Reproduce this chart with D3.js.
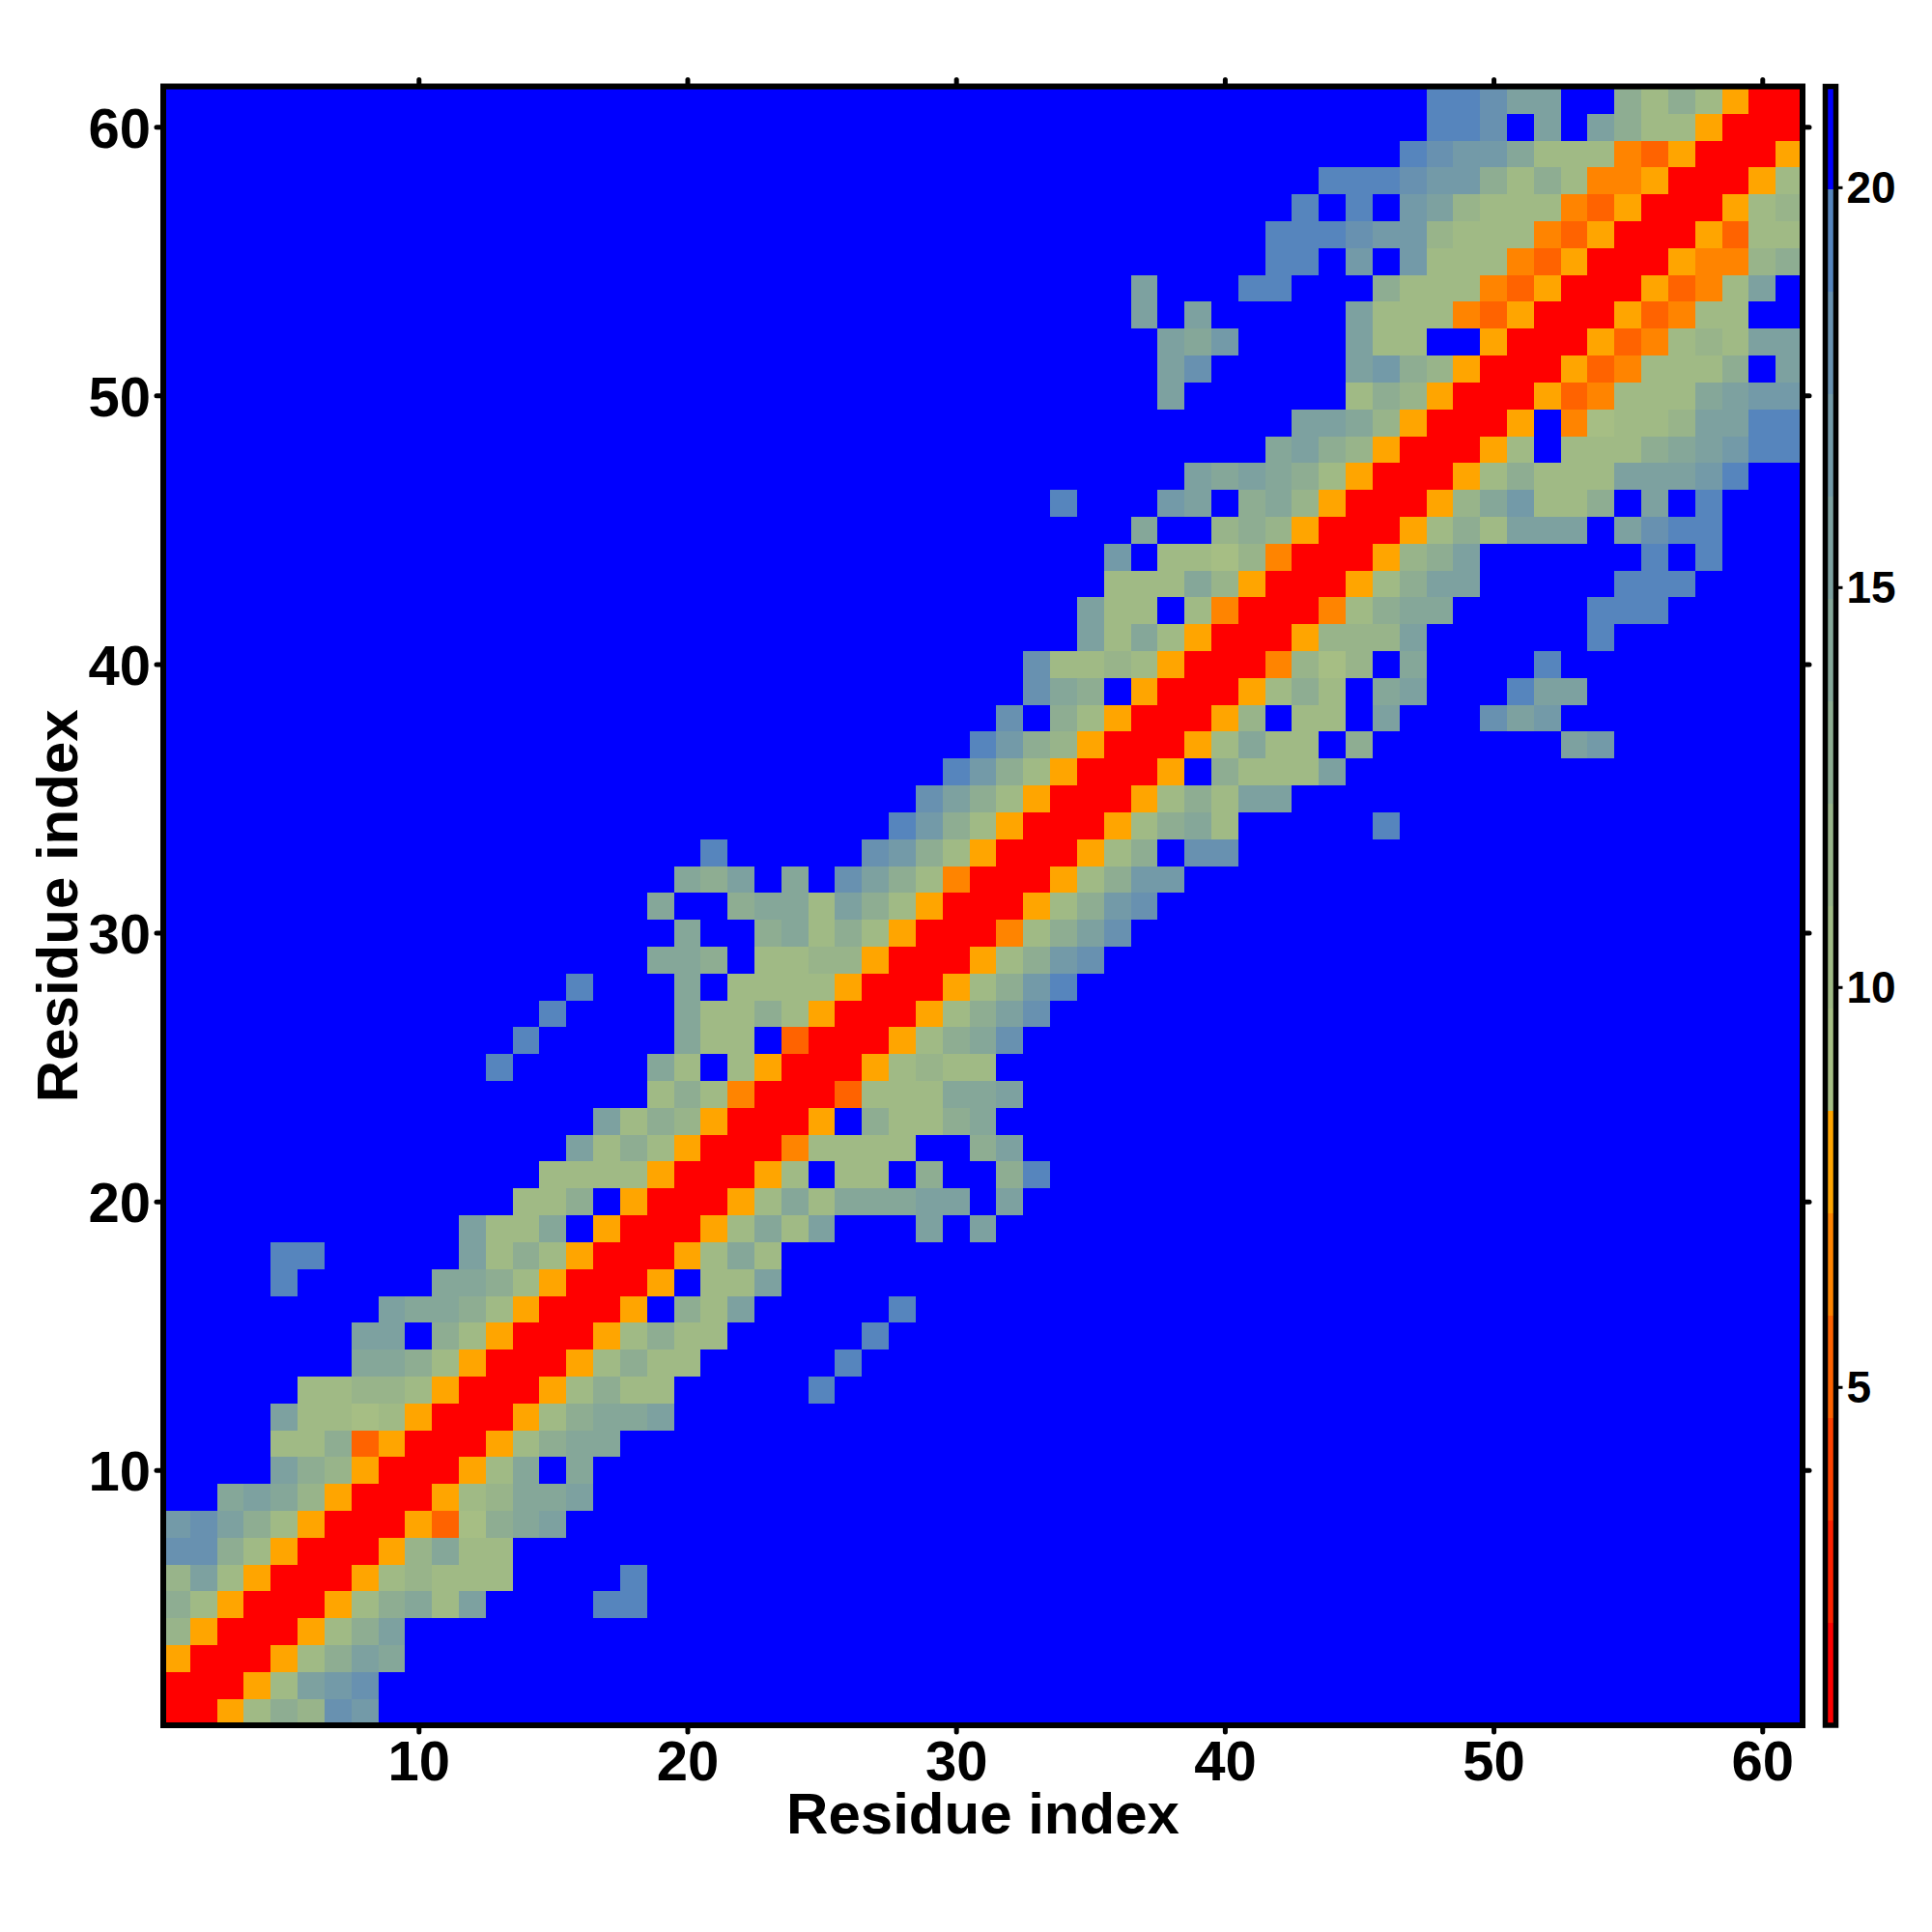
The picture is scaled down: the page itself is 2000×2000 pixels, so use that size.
<!DOCTYPE html>
<html><head><meta charset="utf-8">
<script src="https://cdn.jsdelivr.net/npm/d3@7/dist/d3.min.js"></script>
<style>
html,body{margin:0;padding:0;background:#fff}
text{font-family:"Liberation Sans",Arial,sans-serif;font-weight:bold;fill:#000}
</style></head><body><svg id="c" width="2000" height="2000"></svg>
<script>
// Level codes per cell. Each entry is one row (bottom row first);
// "col:codes" gives the codes from that column on; everything else is the top (blue) level.
const rowCodes = [
"1:005798dc",
"1:00057bcd",
"1:5000579ba",
"1:85000579b",
"1:975000579a7b 17:ee",
"1:8b75000578777 18:e",
"1:dd97500058a77",
"1:cdb9750005369ab",
"3:aba85000578aab",
"5:b98500057a.a",
"5:77935000579aa",
"5:b77675000579aab",
"6:77887500057977 25:e",
"8:aa97500057977 26:e",
"8:bb.97500057977 27:e",
"9:baa9750005.97b 28:e",
"5:e 11:aa9750005.77b",
"5:ee 12:b797500057a7",
"12:b77a.500057a7b...b.b",
"14:779.500057a7aaabb.b",
"15:7777500057.77.9..9e",
"16:b7975000 47777..9b".replace(" ",""),
"17:b79850005.9779a",
"19:79740003777aab",
"13:e 19:a7.7500057877",
"14:e 20:a77.3000579ad",
"15:e 20:a77975000579bd",
"16:e 20:a.77775000579ce",
"19:aa9.77885000579cd",
"20:a 23:9a7975000479bd",
"19:a 22:9aa7b975000579cd",
"20:a9b.a.db974000579cc",
"21:e 27:dc975000579.dd",
"28:ec975000579a7 46:e",
"29:db9750005797bb",
"30:ec9750005.9777b",
"31:ec98500057a77.9 53:bc",
"32:d.97500058.77.b 50:dbc",
"33:da9.50005797.ab 51:ebb",
"33:d778750004868.a 52:e",
"35:b7a750005888b 54:e",
"35:b77.74000479aa 54:eee",
"36:777a85000579bb 55:eee",
"36:c.77684000589b 56:e.e",
"37:a..89850005797bbb.bdee",
"34:e 38:cb.9a8500058ac779.b.e",
"39:baba975000579777bbbce",
"42:ab98500057.7779abcee",
"43:bba850005.46778bbee",
"38:b 45:7985000534777abcc",
"38:bd 45:bc9850005347779.b",
"38:bac 45:b77..5000534787bb",
"37:b.b 45:b77743500053477",
"37:b 41:ee 46:97774350005347b",
"42:ee.c.c77743500054489",
"42:eeedcc87774350005377",
"43:e.e.cb877743500 0578".replace(" ",""),
"44:eeedcc979744500057",
"47:edcca7774350005",
"48:eed.b.b9775000",
"48:eedbb..9797500"
];
const levelCodes = "0123456789abcde.";
const levelColors = ["#ff0000","#ff2100","#ff4200","#ff6300","#ff8400","#ffa500",
  "#a6be84","#a0ba85","#98b48a","#8ead92","#85a799","#7da1a0","#739aa8","#6891b0","#5685bd","#0000ff"];
const zMin = 0.77, zMax = 21.26;
const axisTicks = [10,20,30,40,50,60];
const barTicks = [5,10,15,20];
const axisTitle = "Residue index";
const nRes = 61;

const P = {l:169,r:1866,t:89.5,b:1786};
const svg = d3.select("#c");
const x = d3.scaleLinear().domain([0.5,nRes+0.5]).range([P.l,P.r]);
const y = d3.scaleLinear().domain([0.5,nRes+0.5]).range([P.b,P.t]);
const step = (zMax-zMin)/levelColors.length;
const zVal = k => zMin+step*(k+0.5);
const breaks = d3.range(1,levelColors.length).map(k=>zMin+step*k);
const color = d3.scaleThreshold().domain(breaks).range(levelColors);

const cells = [];
rowCodes.forEach((row,r)=>{
  const codes = new Array(nRes).fill(".");
  row.split(" ").forEach(p=>{
    const [c,s] = p.split(":");
    [...s].forEach((ch,i)=>{codes[+c-1+i]=ch;});
  });
  codes.forEach((ch,i)=>cells.push({i:i+1,j:r+1,z:zVal(levelCodes.indexOf(ch))}));
});

svg.append("g").attr("shape-rendering","crispEdges").selectAll("rect").data(cells).join("rect")
  .attr("x",d=>x(d.i-0.5)).attr("y",d=>y(d.j+0.5))
  .attr("width",d=>x(d.i+0.5)-x(d.i-0.5)+0.5).attr("height",d=>y(d.j-0.5)-y(d.j+0.5)+0.5)
  .attr("fill",d=>color(d.z));

function styleAxis(g){
  g.select(".domain").remove();
  g.selectAll("line").attr("stroke","#000").attr("stroke-width",5).attr("stroke-linecap","round");
  g.selectAll("text").attr("fill","#000").style("font-size","58px");
}
svg.append("g").attr("transform",`translate(0,${P.b})`)
  .call(d3.axisBottom(x).tickValues(axisTicks).tickSize(7).tickFormat(d3.format("d"))).call(styleAxis)
  .selectAll("text").attr("y",57).attr("dy",0);
svg.append("g").attr("transform",`translate(0,${P.t})`)
  .call(d3.axisTop(x).tickValues(axisTicks).tickSize(7).tickFormat("")).call(styleAxis);
svg.append("g").attr("transform",`translate(${P.l},0)`)
  .call(d3.axisLeft(y).tickValues(axisTicks).tickSize(7).tickFormat(d3.format("d"))).call(styleAxis)
  .selectAll("text").attr("x",-13).attr("dy",0).attr("y",21);
svg.append("g").attr("transform",`translate(${P.r},0)`)
  .call(d3.axisRight(y).tickValues(axisTicks).tickSize(7).tickFormat("")).call(styleAxis);

svg.append("rect").attr("x",P.l).attr("y",P.t).attr("width",P.r-P.l).attr("height",P.b-P.t)
  .attr("fill","none").attr("stroke","#000").attr("stroke-width",6);

svg.append("text").attr("x",(P.l+P.r)/2).attr("y",1898).attr("text-anchor","middle")
  .style("font-size","60px").text(axisTitle);
svg.append("text").attr("transform",`translate(80,${(P.t+P.b)/2}) rotate(-90)`).attr("text-anchor","middle")
  .style("font-size","60px").text(axisTitle);

// colour bar
const B = {l:1889.5,r:1900.5};
const zy = d3.scaleLinear().domain([zMin,zMax]).range([P.b,P.t]);
svg.append("g").attr("shape-rendering","crispEdges").selectAll("rect").data(levelColors).join("rect")
  .attr("x",B.l).attr("width",B.r-B.l)
  .attr("y",(d,k)=>zy(zMin+step*(k+1))).attr("height",(d,k)=>zy(zMin+step*k)-zy(zMin+step*(k+1))+0.5)
  .attr("fill",d=>d);
svg.append("rect").attr("x",B.l).attr("y",P.t).attr("width",B.r-B.l).attr("height",P.b-P.t)
  .attr("fill","none").attr("stroke","#000").attr("stroke-width",5.5);
const barAxis = svg.append("g").attr("transform",`translate(${B.r},0)`)
  .call(d3.axisRight(zy).tickValues(barTicks).tickSize(7).tickFormat(d3.format("d")));
barAxis.select(".domain").remove();
barAxis.selectAll("line").attr("stroke","#000").attr("stroke-width",3);
barAxis.selectAll("text").attr("fill","#000").style("font-size","46px")
  .attr("x",11).attr("dy",0).attr("y",16);
</script></body></html>
